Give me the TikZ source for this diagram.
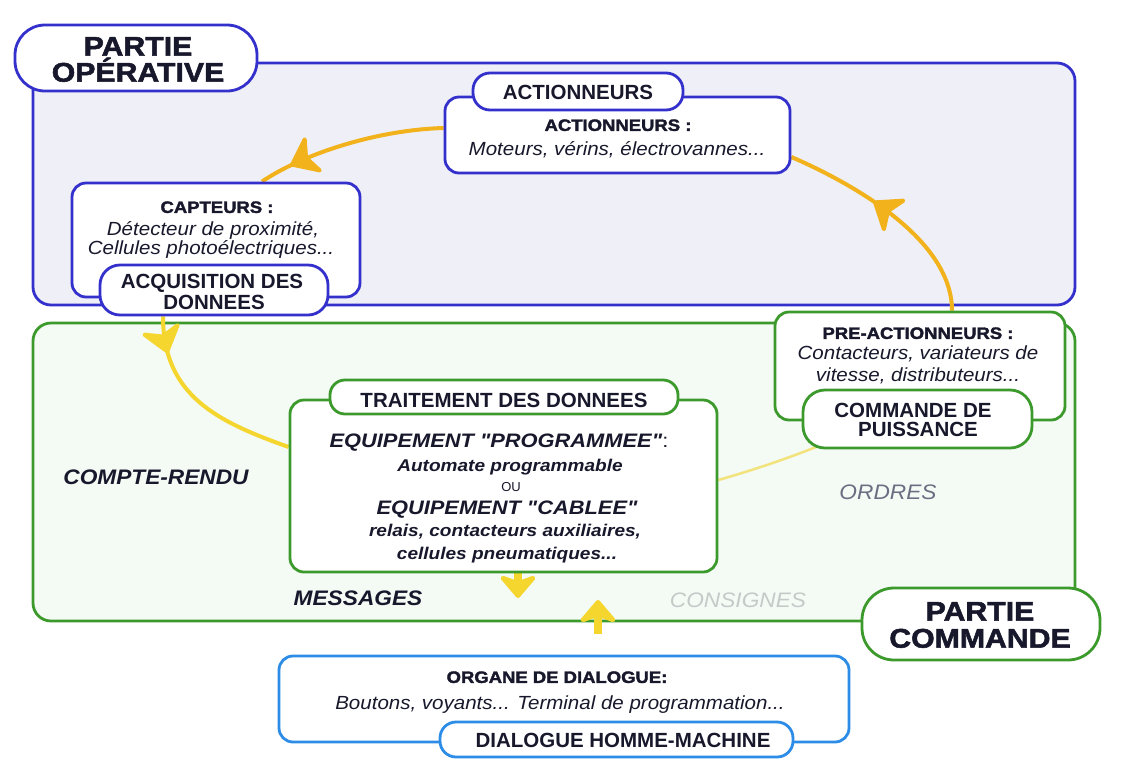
\documentclass[tikz,border=0pt]{standalone}
\usepackage{fontspec}
\setmainfont{Liberation Sans}
\newfontfamily\heavy{Liberation Sans}[FakeStretch=1.12, BoldFeatures={FakeBold=2}]
\newfontfamily\wide{Liberation Sans}[FakeStretch=1.08]
\usetikzlibrary{arrows.meta,decorations.markings}
\definecolor{opblue}{HTML}{3430CC}
\definecolor{opfill}{HTML}{EFEFF7}
\definecolor{cmdgreen}{HTML}{3C9A2C}
\definecolor{cmdfill}{HTML}{F4FAF4}
\definecolor{dlgblue}{HTML}{2C8CE6}
\definecolor{arrO}{HTML}{F2B21C}
\definecolor{arrY}{HTML}{F4D62E}
\definecolor{arrP}{HTML}{F2E37C}
\definecolor{ink}{HTML}{18182C}
\definecolor{ordgray}{HTML}{6A6E82}
\definecolor{csgray}{HTML}{C4CAC8}
\pgfdeclarelayer{bg}
\pgfdeclarelayer{mid}
\pgfsetlayers{bg,mid,main}
\begin{document}
\begin{tikzpicture}[x=1pt,y=-1pt,
  frame/.style={line width=2.8pt, inner sep=0pt, rounded corners=18pt},
  opframe/.style={frame, draw=opblue, fill=opfill},
  cmdframe/.style={frame, draw=cmdgreen, fill=cmdfill},
  opbox/.style={line width=2.8pt, inner sep=0pt, draw=opblue, fill=white, rounded corners=14pt},
  cmdbox/.style={line width=2.8pt, inner sep=0pt, draw=cmdgreen, fill=white, rounded corners=14pt},
  dlgbox/.style={line width=2.8pt, inner sep=0pt, draw=dlgblue, fill=white, rounded corners=14pt},
  txt/.style={inner sep=0pt, text=ink, anchor=center, text depth=0pt},
  bigtxt/.style={txt, font=\heavy\bfseries\fontsize{27}{27}\selectfont, text height=19.3pt},
  tabtxt/.style={txt, font=\bfseries\fontsize{20.5}{22}\selectfont, text height=14.7pt},
  headtxt/.style={txt, font=\heavy\bfseries\fontsize{16.5}{18}\selectfont, text height=11.8pt},
  bodytxt/.style={txt, font=\wide\itshape\fontsize{19}{20}\selectfont, text height=13.6pt},
  eqtxt/.style={txt, font=\heavy\bfseries\itshape\fontsize{19.5}{20}\selectfont, text height=14pt},
  subtxt/.style={txt, font=\heavy\bfseries\itshape\fontsize{17}{18}\selectfont, text height=12.2pt},
  lbltxt/.style={txt, font=\wide\bfseries\itshape\fontsize{21}{22}\selectfont, text height=15pt},
  headtip/.tip={Stealth[length=26pt,width=44pt,inset=8pt,round]},
  marrow/.style 2 args={postaction={decorate, decoration={markings,
      mark=at position #1 with {\arrow[color=#2]{Stealth[length=30pt,width=46pt,inset=9pt,round]}}}}},
  flowO/.style={draw=arrO, line width=4pt},
  flowY/.style={draw=arrY, line width=4pt},
  flowP/.style={draw=arrP, line width=2.5pt},
  flowS/.style={draw=arrY, line width=8pt}
]
\useasboundingbox (0,0) rectangle (1122,772);
\begin{pgfonlayer}{bg}
\fill[white] (0,0) rectangle (1122,772);
\node[opframe, minimum width=1042, minimum height=242] (po) at (554,184) {};
\node[cmdframe, minimum width=1042, minimum height=298] (pc) at (554,472) {};
\end{pgfonlayer}

% boxes
\node[opbox, rounded corners=30pt, minimum width=242, minimum height=66] (polbl) at (136,58) {};
\node[opbox, minimum width=345, minimum height=76] (act) at (617.5,135) {};
\node[opbox, rounded corners=17pt, minimum width=210, minimum height=37] (acttab) at (578,91.5) {};
\node[opbox, minimum width=288, minimum height=114] (capt) at (216,240) {};
\node[opbox, rounded corners=20pt, minimum width=228, minimum height=50] (acq) at (214,290) {};
\node[cmdbox, minimum width=290, minimum height=108] (pre) at (920,366) {};
\node[cmdbox, rounded corners=22pt, minimum width=229, minimum height=58] (cmd) at (917.5,419) {};
\node[cmdbox, minimum width=427, minimum height=172] (trait) at (503.5,486) {};
\node[cmdbox, rounded corners=15pt, minimum width=348, minimum height=34] (traittab) at (504,397) {};
\node[cmdbox, rounded corners=32pt, minimum width=238, minimum height=72] (pclbl) at (981,624) {};
\node[dlgbox, minimum width=570, minimum height=86] (dlg) at (564,699) {};
\node[dlgbox, rounded corners=16pt, minimum width=353, minimum height=35] (dlgtab) at (616.5,739.5) {};

\coordinate (msgtip) at (518,598);
\coordinate (csgbase) at (598,634);
\coordinate (csgtip) at (598,600);

% connectors
\begin{pgfonlayer}{mid}
\draw[flowO, marrow={0.83}{arrO}] ([yshift=7pt]act.west) .. controls +(-70,2) and +(38,-26) .. ([xshift=46pt]capt.north);
\draw[flowO, marrow={0.6}{arrO}] ([xshift=32pt]pre.north) .. controls +(0,-72) and +(60,26) .. ([yshift=-22pt]act.east);
\draw[flowY, marrow={0.19}{arrY}] ([xshift=-51pt]acq.south) .. controls +(0,80) and +(-70,-25) .. ([yshift=39pt]trait.west);
\draw[flowP] ([yshift=6pt]trait.east) .. controls +(35,-10) and +(-30,12) .. ([xshift=16pt,yshift=3pt]cmd.south west);
\draw[flowS, -{headtip}] ([xshift=14.5pt]trait.south) -- (msgtip);
\draw[flowS, -{headtip}] (csgbase) -- (csgtip);
\end{pgfonlayer}

% texts
\node[bigtxt] (t1) at (138,46) {PARTIE};
\node[bigtxt] (t2) at (138,72) {OPÉRATIVE};
\node[tabtxt] (t3) at (578,92) {ACTIONNEURS};
\node[headtxt] (t4) at (618,125) {ACTIONNEURS :};
\node[bodytxt] (t5) at (617,149) {Moteurs, vérins, électrovannes...};
\node[headtxt] (t6) at (217,207) {CAPTEURS :};
\node[bodytxt] (t7) at (213,229) {Détecteur de proximité,};
\node[bodytxt] (t8) at (211,248) {Cellules photoélectriques...};
\node[tabtxt] (t9) at (212,281) {ACQUISITION DES};
\node[tabtxt] (t10) at (214,302) {DONNEES};
\node[headtxt] (t11) at (918,333) {PRE-ACTIONNEURS :};
\node[bodytxt] (t12) at (918,353) {Contacteurs, variateurs de};
\node[bodytxt] (t13) at (918,375) {vitesse, distributeurs...};
\node[tabtxt] (t14) at (913,410) {COMMANDE DE};
\node[tabtxt] (t15) at (918,429) {PUISSANCE};
\node[tabtxt] (t16) at (504,400) {TRAITEMENT DES DONNEES};
\node[eqtxt] (t17) at (499,440) {EQUIPEMENT "PROGRAMMEE"\textmd{\textup{:}}};
\node[subtxt] (t18) at (510,465) {Automate programmable};
\node[txt, font=\fontsize{13}{14}\selectfont, text height=9.3pt] (t19) at (511,487) {OU};
\node[eqtxt] (t20) at (507,507) {EQUIPEMENT "CABLEE"};
\node[subtxt] (t21) at (505,530) {relais, contacteurs auxiliaires,};
\node[subtxt] (t22) at (507,553) {cellules pneumatiques...};
\node[lbltxt] (t23) at (156,477) {COMPTE-RENDU};
\node[lbltxt] (t24) at (358,598) {MESSAGES};
\node[lbltxt, font=\wide\itshape\fontsize{21}{22}\selectfont, text=csgray] (t25) at (738,600) {CONSIGNES};
\node[lbltxt, font=\wide\itshape\fontsize{21}{22}\selectfont, text=ordgray] (t26) at (888,492) {ORDRES};
\node[bigtxt] (t27) at (980,611) {PARTIE};
\node[bigtxt] (t28) at (980,638) {COMMANDE};
\node[headtxt] (t29) at (557,677) {ORGANE DE DIALOGUE:};
\node[bodytxt] (t30) at (560,703) {Boutons, voyants... Terminal de programmation...};
\node[tabtxt] (t31) at (623,740) {DIALOGUE HOMME-MACHINE};
\end{tikzpicture}
\end{document}
